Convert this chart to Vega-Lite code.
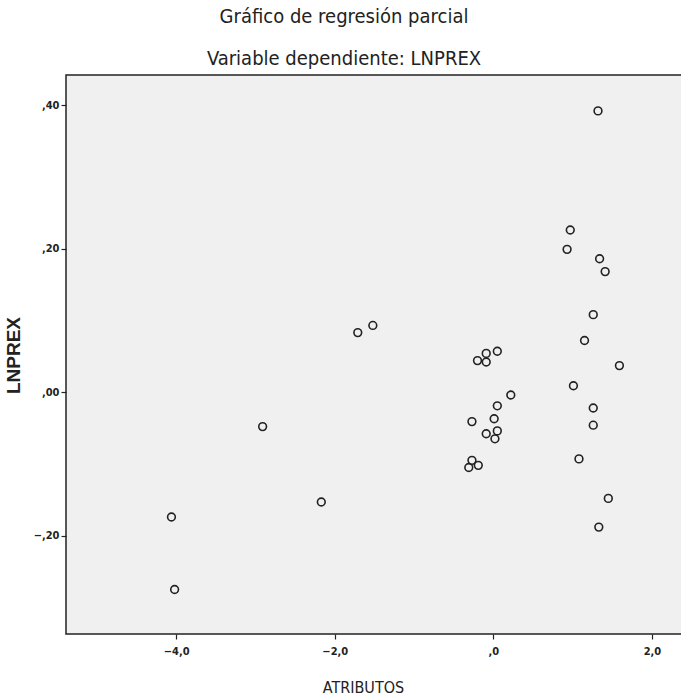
{
  "$schema": "https://vega.github.io/schema/vega-lite/v6.json",
  "width": 622,
  "height": 559,
  "autosize": {"type": "none"},
  "padding": {"left": 66, "top": 75, "right": 0, "bottom": 66},
  "background": "white",
  "title": {
    "text": "Gráfico de regresión parcial",
    "subtitle": "Variable dependiente: LNPREX",
    "anchor": "middle",
    "frame": "group",
    "dx": -33,
    "font": "DejaVu Sans Condensed, Liberation Sans, sans-serif",
    "fontSize": 20,
    "fontWeight": "normal",
    "color": "#222222",
    "subtitleFont": "DejaVu Sans Condensed, Liberation Sans, sans-serif",
    "subtitleFontSize": 20,
    "subtitleColor": "#222222",
    "subtitlePadding": 22,
    "offset": 6
  },
  "config": {
    "view": {"fill": "#F0F0F0", "stroke": "#222222", "strokeWidth": 1.5},
    "axis": {
      "domain": false,
      "grid": false,
      "ticks": true,
      "tickColor": "#222222",
      "tickSize": 5,
      "tickWidth": 1.2,
      "labelFont": "DejaVu Sans Condensed, Liberation Sans, sans-serif",
      "labelFontSize": 11,
      "labelFontWeight": "bold",
      "labelColor": "#222222",
      "titleFont": "DejaVu Sans Condensed, Liberation Sans, sans-serif",
      "titleFontSize": 16,
      "titleFontWeight": "normal",
      "titleColor": "#222222"
    }
  },
  "data": {
    "values": [
      {"ATRIBUTOS": 1.32, "LNPREX": 0.392},
      {"ATRIBUTOS": 0.97, "LNPREX": 0.226},
      {"ATRIBUTOS": 0.93, "LNPREX": 0.199},
      {"ATRIBUTOS": 1.34, "LNPREX": 0.186},
      {"ATRIBUTOS": 1.41, "LNPREX": 0.168},
      {"ATRIBUTOS": 1.26, "LNPREX": 0.108},
      {"ATRIBUTOS": 1.15, "LNPREX": 0.072},
      {"ATRIBUTOS": 1.59, "LNPREX": 0.037},
      {"ATRIBUTOS": 1.01, "LNPREX": 0.009},
      {"ATRIBUTOS": 1.26, "LNPREX": -0.022},
      {"ATRIBUTOS": 1.26, "LNPREX": -0.046},
      {"ATRIBUTOS": 1.08, "LNPREX": -0.093},
      {"ATRIBUTOS": 1.45, "LNPREX": -0.148},
      {"ATRIBUTOS": 1.33, "LNPREX": -0.188},
      {"ATRIBUTOS": -0.20, "LNPREX": 0.044},
      {"ATRIBUTOS": -0.09, "LNPREX": 0.054},
      {"ATRIBUTOS": -0.09, "LNPREX": 0.042},
      {"ATRIBUTOS": 0.05, "LNPREX": 0.057},
      {"ATRIBUTOS": 0.22, "LNPREX": -0.004},
      {"ATRIBUTOS": 0.05, "LNPREX": -0.019},
      {"ATRIBUTOS": -0.27, "LNPREX": -0.041},
      {"ATRIBUTOS": 0.01, "LNPREX": -0.037},
      {"ATRIBUTOS": -0.09, "LNPREX": -0.058},
      {"ATRIBUTOS": 0.05, "LNPREX": -0.054},
      {"ATRIBUTOS": 0.02, "LNPREX": -0.065},
      {"ATRIBUTOS": -0.27, "LNPREX": -0.095},
      {"ATRIBUTOS": -0.31, "LNPREX": -0.105},
      {"ATRIBUTOS": -0.19, "LNPREX": -0.102},
      {"ATRIBUTOS": -1.71, "LNPREX": 0.083},
      {"ATRIBUTOS": -1.52, "LNPREX": 0.093},
      {"ATRIBUTOS": -2.91, "LNPREX": -0.048},
      {"ATRIBUTOS": -2.17, "LNPREX": -0.153},
      {"ATRIBUTOS": -4.06, "LNPREX": -0.174},
      {"ATRIBUTOS": -4.02, "LNPREX": -0.275}
    ]
  },
  "mark": {"type": "point", "shape": "circle", "filled": false, "size": 60, "stroke": "#222222", "strokeWidth": 1.6, "opacity": 1},
  "encoding": {
    "x": {
      "field": "ATRIBUTOS",
      "type": "quantitative",
      "scale": {"domain": [-5.39, 2.455], "nice": false, "zero": false},
      "axis": {
        "values": [-4, -2, 0, 2],
        "labelExpr": "datum.value == 0 ? ',0' : replace(format(datum.value, '.1f'), '.', ',')",
        "labelPadding": 6,
        "titlePadding": 23,
        "title": "ATRIBUTOS",
        "titleX": 297
      }
    },
    "y": {
      "field": "LNPREX",
      "type": "quantitative",
      "scale": {"domain": [-0.337, 0.442], "nice": false, "zero": false},
      "axis": {
        "values": [-0.2, 0, 0.2, 0.4],
        "labelExpr": "replace(format(datum.value, '.2f'), '0.', ',')",
        "labelPadding": 2,
        "title": "LNPREX",
        "titleFont": "Liberation Sans",
        "titleFontWeight": "bold",
        "titleFontSize": 19,
        "titleX": -53,
        "titleY": 280,
        "titleAngle": -90,
        "titleAlign": "center",
        "titleBaseline": "middle"
      }
    }
  }
}
